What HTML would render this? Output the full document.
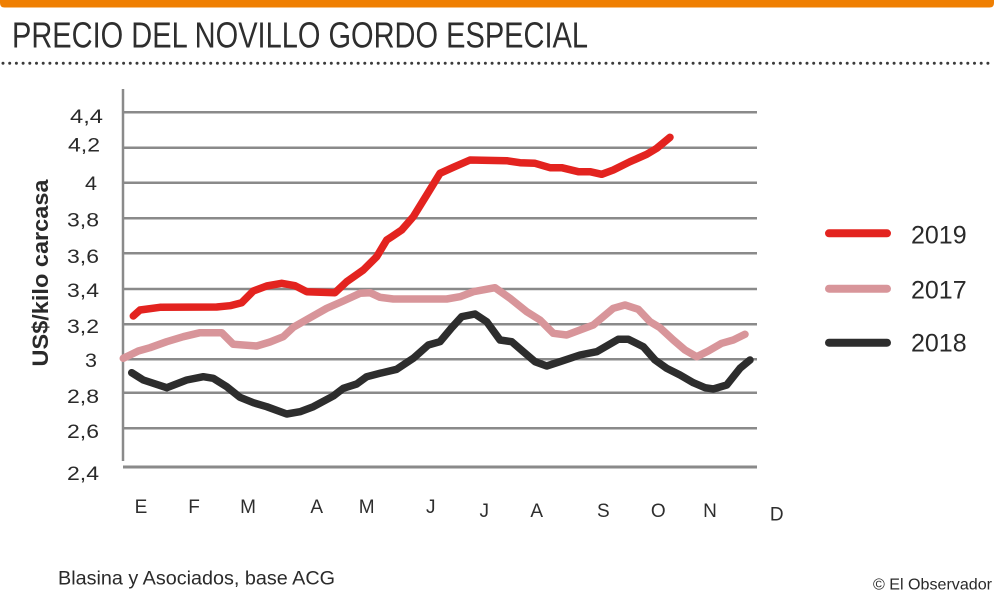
<!DOCTYPE html>
<html><head><meta charset="utf-8"><style>
html,body{margin:0;padding:0;background:#fff;}
svg{display:block;}
text{font-family:"Liberation Sans",sans-serif;}
</style></head><body>
<svg width="1000" height="597" viewBox="0 0 1000 597" xmlns="http://www.w3.org/2000/svg">
<rect width="1000" height="597" fill="#ffffff"/>
<path d="M0 0 H994 V3 Q994 7.5 989.5 7.5 H4.5 Q0 7.5 0 3 Z" fill="#ef7f02"/>
<text x="12" y="47.5" font-size="36" fill="#2e2e2e" textLength="576" lengthAdjust="spacingAndGlyphs">PRECIO DEL NOVILLO GORDO ESPECIAL</text>
<line x1="3" y1="63.3" x2="993" y2="63.3" stroke="#3a3a3a" stroke-width="3" stroke-linecap="round" stroke-dasharray="0 6.7"/>
<g stroke="#8a8a8a" stroke-width="2.5">
<line x1="123" y1="112.3" x2="757" y2="112.3"/>
<line x1="123" y1="147.7" x2="757" y2="147.7"/>
<line x1="123" y1="182.7" x2="757" y2="182.7"/>
<line x1="123" y1="218.3" x2="757" y2="218.3"/>
<line x1="123" y1="253.3" x2="757" y2="253.3"/>
<line x1="123" y1="289" x2="757" y2="289"/>
<line x1="123" y1="324.3" x2="757" y2="324.3"/>
<line x1="123" y1="359.3" x2="757" y2="359.3"/>
<line x1="123" y1="392.7" x2="757" y2="392.7"/>
<line x1="123" y1="428.3" x2="757" y2="428.3"/>
<line x1="123" y1="467" x2="757" y2="467" stroke-width="3"/>
<line x1="123" y1="89" x2="123" y2="461" stroke-width="2.5"/>
</g>
<g font-size="19.5" fill="#2a2a2a">
<text x="70" y="123" textLength="33" lengthAdjust="spacingAndGlyphs">4,4</text>
<text x="68" y="151.5" textLength="32" lengthAdjust="spacingAndGlyphs">4,2</text>
<text x="85" y="190" textLength="12" lengthAdjust="spacingAndGlyphs">4</text>
<text x="67" y="226.5" textLength="32" lengthAdjust="spacingAndGlyphs">3,8</text>
<text x="67" y="263" textLength="32" lengthAdjust="spacingAndGlyphs">3,6</text>
<text x="67" y="297" textLength="32" lengthAdjust="spacingAndGlyphs">3,4</text>
<text x="67" y="333" textLength="32" lengthAdjust="spacingAndGlyphs">3,2</text>
<text x="85" y="367" textLength="12" lengthAdjust="spacingAndGlyphs">3</text>
<text x="67" y="403" textLength="32" lengthAdjust="spacingAndGlyphs">2,8</text>
<text x="67" y="438" textLength="32" lengthAdjust="spacingAndGlyphs">2,6</text>
<text x="67" y="480" textLength="32" lengthAdjust="spacingAndGlyphs">2,4</text>
</g>
<text transform="translate(48,273) rotate(-90)" font-size="22" font-weight="bold" fill="#2a2a2a" text-anchor="middle" textLength="187" lengthAdjust="spacingAndGlyphs">US$/kilo carcasa</text>
<g font-size="19" fill="#2e2e2e" text-anchor="middle">
<text x="141" y="513">E</text>
<text x="194" y="513">F</text>
<text x="248" y="513">M</text>
<text x="316.7" y="513">A</text>
<text x="366.7" y="513">M</text>
<text x="430.7" y="513">J</text>
<text x="484.3" y="517">J</text>
<text x="536.7" y="517">A</text>
<text x="603.3" y="517">S</text>
<text x="658.3" y="517">O</text>
<text x="710" y="517">N</text>
<text x="776.7" y="520.5">D</text>
</g>
<g fill="none" stroke-width="7.5" stroke-linejoin="round" stroke-linecap="round">
<polyline stroke="#d8959a" points="123.3,358.3 138.3,351 150,347.7 166.7,341.7 183.3,336.7 200,332.7 221.7,332.7 233.3,344.3 256.7,346 270,342 283.3,336.7 293.3,327.3 310,317.7 326.7,308.3 343.3,301 360,293.3 370,292.7 380,297.3 393.3,299 446.7,299 460,296.7 473.3,291.7 495,287.7 510,298.3 526.7,311.7 540,320 553.3,333.3 566.7,335 580,330 593.3,325 613.3,308.3 625,305 638.3,309.3 650,321.7 660,327.7 673.3,340 685,350 696.7,356.7 708.3,351 721.7,343.3 733.3,340 745,334.3"/>
<polyline stroke="#2d2d2d" points="131.7,372.7 143.3,380 166.7,387.7 186.7,380 203.3,376.7 213.3,378.3 226.7,386.7 240,397.3 253.3,402.7 266.7,406.7 286.7,414 300,411.7 313.3,406.7 333.3,396 343.3,388.3 356.7,384 366.7,376.7 380,373.3 396.7,369.3 413.3,358.3 428.3,345 440,341.7 451.7,327.7 461.7,316.7 475,314 486.7,321.7 500,340 511.7,341.7 523.3,351.7 535,361.7 546.7,366 560,361.7 580,355 596.7,351.7 618.3,339.3 628.3,339.3 643.3,346.7 655,360 666.7,368.3 680,375 693.3,382.7 705,387.7 713.3,389 726.7,385 740,368.3 750,360"/>
<polyline stroke="#e3231f" points="133.3,316 140,310 160,307.3 216.7,307 230,305.7 241.7,302.7 253.3,291 266.7,286 281.7,283.3 295,285.7 306.7,291.7 335,292.7 346.7,281.7 363.3,270 376.7,256.7 386.7,240 391.7,236.7 401.7,230 413.3,216.7 426.7,195 440,173.3 453.3,167.3 470,160 506.7,160.7 520,162.7 535,163.3 550,167.7 561.7,167.7 578.3,171.7 590,171.7 601.7,174.3 613.3,170 630,161.7 646.7,154.3 656.7,148.3 670,137.3"/>
</g>
<g stroke-width="8" stroke-linecap="round">
<line x1="829" y1="233.3" x2="887" y2="233.3" stroke="#e3231f"/>
<line x1="829" y1="288.7" x2="887" y2="288.7" stroke="#d8959a"/>
<line x1="829" y1="342.7" x2="887" y2="342.7" stroke="#2d2d2d"/>
</g>
<g font-size="25" fill="#2a2a2a">
<text x="911" y="243.3">2019</text>
<text x="911" y="298.3">2017</text>
<text x="911" y="351.7">2018</text>
</g>
<text x="58" y="584.3" font-size="19" fill="#2a2a2a" textLength="277" lengthAdjust="spacingAndGlyphs">Blasina y Asociados, base ACG</text>
<text x="873" y="589.3" font-size="16" fill="#2a2a2a" textLength="119" lengthAdjust="spacingAndGlyphs">© El Observador</text>
</svg>
</body></html>
